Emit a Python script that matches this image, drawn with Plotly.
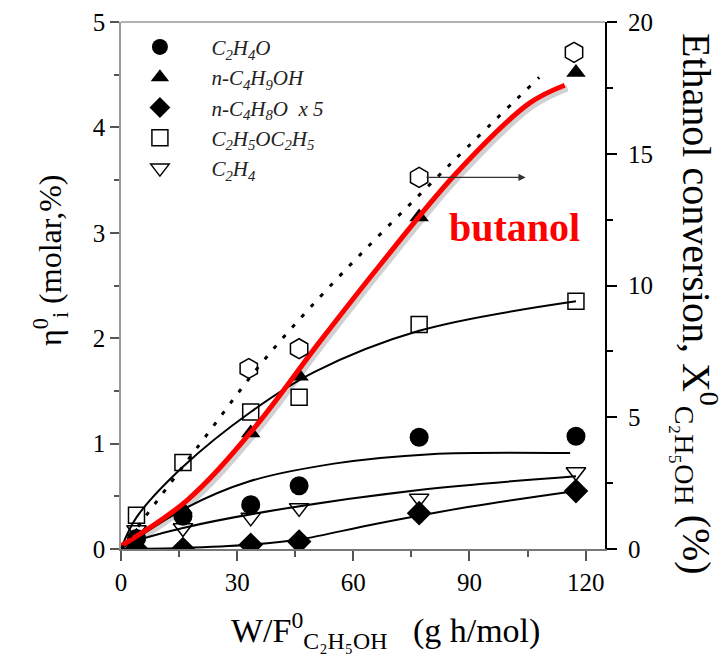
import plotly.graph_objects as go

# ---------------- data ----------------
x_pts = [4, 16, 33.5, 46, 77, 117.5]

acetaldehyde = [0.10, 0.31, 0.42, 0.60, 1.06, 1.07]          # C2H4O  (filled circles)
butanol_pts = [0.12, 0.38, 1.10, 1.64, 3.15, 4.52]            # n-C4H9OH (filled triangles)
butanal_x5 = [0.00, 0.00, 0.04, 0.07, 0.34, 0.55]             # n-C4H8O x5 (filled diamonds)
ether = [0.32, 0.82, 1.30, 1.44, 2.13, 2.35]                  # C2H5OC2H5 (open squares)
ethylene = [0.18, 0.20, 0.30, 0.39, 0.48, 0.73]               # C2H4 (open down-triangles)

conv_x = [33, 46, 77, 117]
conversion = [6.85, 7.6, 14.1, 18.85]                         # ethanol conversion, % (right axis)

# fitted curves
fit_acet_x = [0, 16.8, 33, 55, 80, 116]
fit_acet_y = [0.0, 0.39, 0.64, 0.81, 0.90, 0.91]
fit_ether_x = [0, 4, 16, 33.5, 50, 77, 117.5]
fit_ether_y = [0.0, 0.30, 0.78, 1.30, 1.68, 2.07, 2.35]
fit_ethyl_x = [0, 16, 40, 77, 117.5]
fit_ethyl_y = [0.04, 0.20, 0.37, 0.56, 0.69]
fit_butanal_x = [0, 16, 33, 46, 66, 90, 117.5]
fit_butanal_y = [0.0, 0.01, 0.04, 0.09, 0.24, 0.40, 0.55]
fit_conv_x = [0, 22, 36, 53.5, 85, 108]
fit_conv_y = [0.0, 4.3, 7.0, 9.9, 14.6, 17.9]
red_x = [0, 17, 34, 51.4, 66.8, 86.7, 105.5, 114.6]
red_y = [0.03, 0.46, 1.13, 1.97, 2.69, 3.57, 4.23, 4.40]

FONT = "Liberation Serif, Times New Roman, serif"

fig = go.Figure()

# fitted black lines (no legend)
for fx, fy in [(fit_acet_x, fit_acet_y), (fit_ether_x, fit_ether_y),
               (fit_ethyl_x, fit_ethyl_y), (fit_butanal_x, fit_butanal_y)]:
    fig.add_trace(go.Scatter(x=fx, y=fy, mode="lines", line=dict(color="black", width=2, shape="spline"),
                             showlegend=False, hoverinfo="skip"))

# conversion dotted fit (right axis)
fig.add_trace(go.Scatter(x=fit_conv_x, y=fit_conv_y, yaxis="y2", mode="lines",
                         line=dict(color="black", width=3, dash="4px,10px", shape="spline"),
                         showlegend=False, hoverinfo="skip"))

# markers with legend
fig.add_trace(go.Scatter(x=x_pts, y=acetaldehyde, mode="markers", name="<i>C<sub>2</sub>H<sub>4</sub>O</i>",
                         marker=dict(symbol="circle", size=19, color="black")))
fig.add_trace(go.Scatter(x=x_pts, y=butanol_pts, mode="markers", name="<i>n-C<sub>4</sub>H<sub>9</sub>OH</i>",
                         marker=dict(symbol="triangle-up", size=17, color="black")))
fig.add_trace(go.Scatter(x=x_pts, y=butanal_x5, mode="markers", name="<i>n-C<sub>4</sub>H<sub>8</sub>O  x 5</i>",
                         marker=dict(symbol="diamond", size=19, color="black")))
fig.add_trace(go.Scatter(x=x_pts, y=ether, mode="markers",
                         name="<i>C<sub>2</sub>H<sub>5</sub>OC<sub>2</sub>H<sub>5</sub></i>",
                         marker=dict(symbol="square-open", size=16, color="black", line=dict(width=1.5))))
fig.add_trace(go.Scatter(x=x_pts, y=ethylene, mode="markers", name="<i>C<sub>2</sub>H<sub>4</sub></i>",
                         marker=dict(symbol="triangle-down-open", size=17, color="black", line=dict(width=1.5))))

# conversion hexagons (right axis)
fig.add_trace(go.Scatter(x=conv_x, y=conversion, yaxis="y2", mode="markers", showlegend=False,
                         marker=dict(symbol="hexagon-open", size=20, color="black", line=dict(width=1.5))))

# red butanol curve with soft shadow
fig.add_trace(go.Scatter(x=[v + 0.7 for v in red_x], y=[v - 0.03 for v in red_y], mode="lines",
                         line=dict(color="rgba(0,0,0,0.18)", width=6, shape="spline"),
                         showlegend=False, hoverinfo="skip"))
fig.add_trace(go.Scatter(x=red_x, y=red_y, mode="lines", line=dict(color="#ff0000", width=5, shape="spline"),
                         showlegend=False, hoverinfo="skip"))

# arrow pointing to the right axis
fig.add_annotation(x=104.5, y=conversion[2], ax=conv_x[2] + 1.5, ay=conversion[2], xref="x", yref="y2",
                   axref="x", ayref="y2", text="", showarrow=True, arrowhead=2, arrowsize=1.2,
                   arrowwidth=1.2, arrowcolor="#333333")

fig.add_annotation(x=101.7, y=3.05, xref="x", yref="y", text="<b>butanol</b>", showarrow=False,
                   font=dict(family=FONT, size=40, color="#ff0000"))

# axis titles as annotations
fig.add_annotation(x=-0.147, y=0.548, xref="paper", yref="paper", textangle=-90, showarrow=False,
                   xanchor="center", yanchor="middle",
                   text="η<sup>0</sup><sub>i</sub> (molar,%)", font=dict(family=FONT, size=32, color="black"))
fig.add_annotation(x=1.19, y=0.465, xref="paper", yref="paper", textangle=90, showarrow=False,
                   xanchor="center", yanchor="middle",
                   text="Ethanol conversion, X<sup>0</sup><sub>C₂H₅OH</sub> (%)",
                   font=dict(family=FONT, size=40, color="black"))
fig.add_annotation(x=0.5475, y=-0.154, xref="paper", yref="paper", showarrow=False,
                   xanchor="center", yanchor="middle",
                   text="W/F<sup>0</sup><sub>C₂H₅OH</sub>   (g h/mol)",
                   font=dict(family=FONT, size=34, color="black"))

# top frame line
fig.add_shape(type="line", xref="paper", yref="paper", x0=0, x1=1, y0=1, y1=1,
              line=dict(color="#999999", width=1.5))

fig.update_layout(
    width=719, height=657,
    margin=dict(l=113, r=122, t=14, b=116, autoexpand=False),
    plot_bgcolor="white", paper_bgcolor="white",
    font=dict(family=FONT, size=25, color="black"),
    xaxis=dict(range=[0, 125], tickvals=[0, 30, 60, 90, 120], ticks="outside", ticklen=10, tickwidth=1.5,
               tickcolor="#555555", showline=True, linecolor="#777777", linewidth=1.5, showgrid=False,
               zeroline=False, tickfont=dict(family=FONT, size=25), automargin=False,
               minor=dict(tickvals=[15, 45, 75, 105], ticks="outside", ticklen=6, tickcolor="#555555")),
    yaxis=dict(range=[0, 5], tickvals=[0, 1, 2, 3, 4, 5], ticks="outside", ticklen=9, tickwidth=1.5,
               tickcolor="#555555", showline=True, linecolor="#999999", linewidth=1.5, showgrid=False,
               zeroline=False, tickfont=dict(family=FONT, size=25), automargin=False,
               minor=dict(tickvals=[0.5, 1.5, 2.5, 3.5, 4.5], ticks="outside", ticklen=5, tickcolor="#555555")),
    yaxis2=dict(range=[0, 20], overlaying="y", side="right", tickvals=[0, 5, 10, 15, 20], ticks="outside",
                ticklen=10, tickwidth=1.5, tickcolor="black", showline=True, linecolor="black", linewidth=2,
                showgrid=False, zeroline=False, tickfont=dict(family=FONT, size=25), automargin=False,
                ticklabelstandoff=6,
                minor=dict(tickvals=[2.5, 7.5, 12.5, 17.5], ticks="outside", ticklen=6, tickcolor="black")),
    legend=dict(x=-0.026, y=0.991, xanchor="left", yanchor="top", bgcolor="rgba(0,0,0,0)",
                font=dict(family=FONT, size=21, color="#222222"), itemwidth=93, tracegroupgap=0),
    showlegend=True,
)

fig.write_html("out.html")
